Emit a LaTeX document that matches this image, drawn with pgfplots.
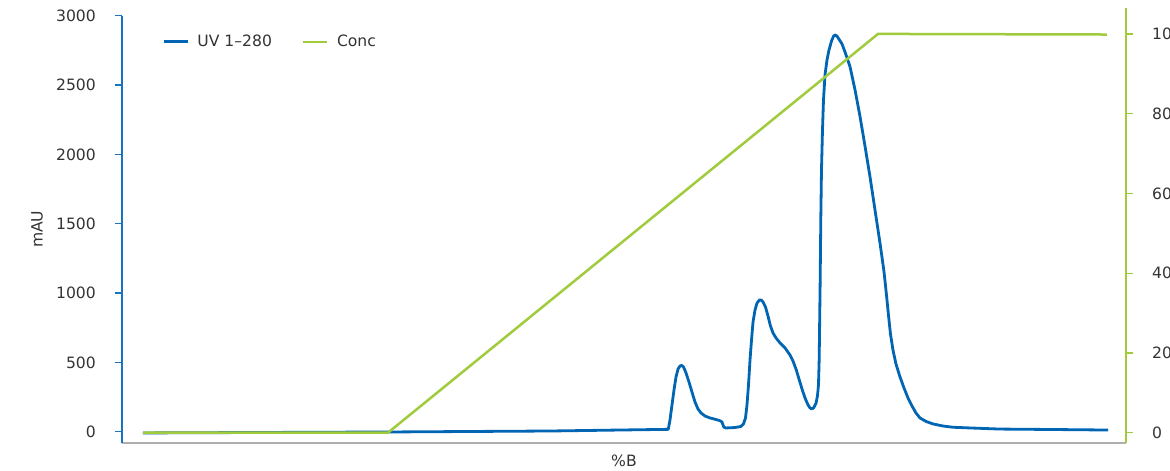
\documentclass[border=0pt]{standalone}
\usepackage{fontspec}
\setmainfont{DejaVu Sans}
\usepackage{pgfplots}
\pgfplotsset{compat=1.18}
\definecolor{uvblue}{RGB}{0,101,179}
\definecolor{concgreen}{RGB}{160,203,60}
\definecolor{axblue}{RGB}{25,115,195}
\definecolor{axgray}{RGB}{175,175,175}
\definecolor{txt}{RGB}{51,51,51}
\newcommand{\tf}{\fontsize{15.6}{18}\selectfont}
\begin{document}
\begin{tikzpicture}[x=1pt,y=1pt]
\useasboundingbox (0,0) rectangle (1170,471);
\begin{axis}[
  at={(122pt,28pt)}, anchor=south west, scale only axis,
  width=1004pt, height=427.3pt,
  xmin=0, xmax=100, ymin=-81.5, ymax=3000,
  axis x line*=bottom, axis y line*=left,
  x axis line style={draw=axgray, line width=1.3pt, -},
  y axis line style={draw=axblue, line width=1.3pt, -},
  xtick=\empty,
  ytick={0,500,...,3000},
  tick align=outside, major tick length=7pt,
  ytick style={draw=axblue, line width=1.3pt},
  yticklabel style={font=\tf, text=txt, inner sep=0pt, anchor=east, xshift=-19pt},
  /pgf/number format/assume math mode=true,
  /pgf/number format/1000 sep={},
  ylabel={mAU},
  ylabel style={font=\tf, text=txt, at={(axis description cs:-0.0847,0.5)}, anchor=center, rotate=0},
  xlabel={\%B},
  xlabel style={font=\tf, text=txt, at={(axis description cs:0.5,-0.042)}, anchor=center},
  legend columns=2,
  legend style={at={(axis description cs:0.0400,0.939)}, anchor=west, draw=none, fill=none,
    font=\tf, text=txt, inner sep=0pt, outer sep=0pt, nodes={inner sep=0pt},
    /tikz/every odd column/.append style={column sep=8.5pt},
    /tikz/every even column/.append style={column sep=30pt}},
  legend image code/.code={\draw[#1] (0pt,0pt) -- (24pt,0pt);},
]
\addplot[uvblue, line width=2.8pt, line join=round] coordinates {
(2.09,-9) (26.69,-2) (42.63,5) (54.41,17)
(54.58,84) (54.78,193) (54.98,301) (55.18,395) (55.38,452) (55.58,474) (55.75,478)
(55.93,467) (56.18,423) (56.47,359) (56.77,286) (57.07,214) (57.37,164) (57.67,135)
(58.07,113) (58.57,99) (59.16,88) (59.56,79) (59.76,70) (59.86,48) (59.96,32)
(60.16,27) (61.06,30) (61.65,38) (61.90,56) (62.10,99) (62.25,193) (62.40,337)
(62.55,517) (62.70,661) (62.85,791) (63.05,878) (63.25,928) (63.50,950) (63.65,950)
(63.84,936) (64.09,900) (64.34,835) (64.59,762) (64.84,712) (65.14,676) (65.54,640)
(66.04,604) (66.53,553) (66.83,510) (67.13,452) (67.43,380) (67.73,308) (68.03,243)
(68.33,193) (68.53,171) (68.73,164) (68.92,175) (69.12,205) (69.27,258) (69.37,337)
(69.44,517) (69.49,806) (69.54,1094) (69.60,1527) (69.67,1888) (69.77,2176)
(69.87,2393) (70.02,2573) (70.22,2681) (70.42,2753) (70.67,2818) (70.87,2852)
(71.02,2862) (71.22,2852) (71.46,2825) (71.71,2797) (72.01,2739) (72.51,2633)
(73.01,2465) (73.51,2272) (74.00,2061) (74.50,1839) (75.00,1599) (75.50,1359)
(75.90,1152) (76.16,974) (76.34,842) (76.54,705) (76.79,589) (77.09,488) (77.49,395)
(77.89,315) (78.29,243) (78.69,185) (79.08,135) (79.48,99) (80.08,74) (80.78,56)
(81.77,41) (82.77,32) (84.46,27) (87.45,19) (92.43,16) (98.21,12)
};
\addlegendentry{UV 1–280}
\addlegendimage{concgreen, line width=2.5pt}
\addlegendentry{Conc}
\end{axis}
\begin{axis}[
  at={(122pt,28pt)}, anchor=south west, scale only axis,
  width=1004pt, height=435pt,
  xmin=0, xmax=100, ymin=-2.58, ymax=106.5,
  axis x line=none, axis y line*=right,
  y axis line style={draw=concgreen, line width=1.3pt, -},
  ytick={0,20,...,100},
  tick align=outside, major tick length=7pt,
  ytick style={draw=concgreen, line width=1.3pt},
  yticklabel style={font=\tf, text=txt, inner sep=0pt, anchor=west, xshift=19pt},
  /pgf/number format/assume math mode=true,
]
\addplot[concgreen, line width=2.5pt] coordinates {
(2.09,0) (26.49,0) (75.30,100) (98.10,99.85)
};
\end{axis}
\end{tikzpicture}
\end{document}
